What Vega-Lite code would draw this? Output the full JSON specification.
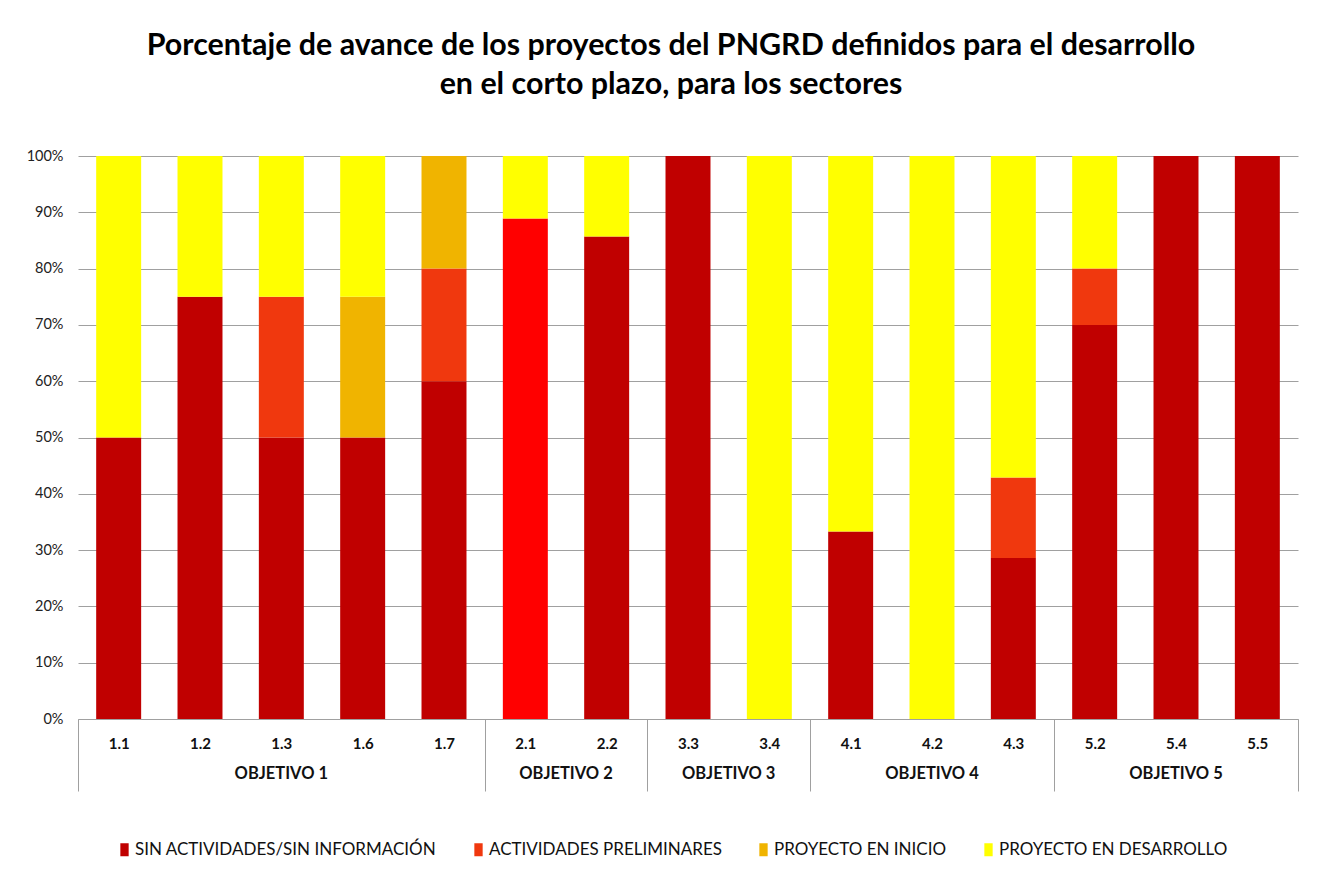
{
  "$schema": "https://vega.github.io/schema/vega-lite/v6.json",
  "width": 1220,
  "height": 563,
  "autosize": {"type": "none"},
  "padding": {"left": 78, "top": 156, "right": 22, "bottom": 152},
  "background": "white",
  "title": {
    "text": ["Porcentaje de avance de los proyectos del PNGRD definidos para el desarrollo", "en el corto plazo, para los sectores"],
    "font": "Lato", "fontSize": 30.4, "fontWeight": "bold", "color": "#000000",
    "lineHeight": 39, "anchor": "middle", "offset": 48, "dx": -17
  },
  "config": {"view": {"stroke": null}, "font": "Lato"},
  "datasets": {
    "bars": [
      {"sector": "1.1", "serie": "SIN ACTIVIDADES/SIN INFORMACIÓN", "pct": 50},
      {"sector": "1.1", "serie": "PROYECTO EN DESARROLLO", "pct": 50},
      {"sector": "1.2", "serie": "SIN ACTIVIDADES/SIN INFORMACIÓN", "pct": 75},
      {"sector": "1.2", "serie": "PROYECTO EN DESARROLLO", "pct": 25},
      {"sector": "1.3", "serie": "SIN ACTIVIDADES/SIN INFORMACIÓN", "pct": 50},
      {"sector": "1.3", "serie": "ACTIVIDADES PRELIMINARES", "pct": 25},
      {"sector": "1.3", "serie": "PROYECTO EN DESARROLLO", "pct": 25},
      {"sector": "1.6", "serie": "SIN ACTIVIDADES/SIN INFORMACIÓN", "pct": 50},
      {"sector": "1.6", "serie": "PROYECTO EN INICIO", "pct": 25},
      {"sector": "1.6", "serie": "PROYECTO EN DESARROLLO", "pct": 25},
      {"sector": "1.7", "serie": "SIN ACTIVIDADES/SIN INFORMACIÓN", "pct": 60},
      {"sector": "1.7", "serie": "ACTIVIDADES PRELIMINARES", "pct": 20},
      {"sector": "1.7", "serie": "PROYECTO EN INICIO", "pct": 20},
      {"sector": "2.1", "serie": "SIN ACTIVIDADES/SIN INFORMACIÓN", "pct": 88.9},
      {"sector": "2.1", "serie": "PROYECTO EN DESARROLLO", "pct": 11.1},
      {"sector": "2.2", "serie": "SIN ACTIVIDADES/SIN INFORMACIÓN", "pct": 85.7},
      {"sector": "2.2", "serie": "PROYECTO EN DESARROLLO", "pct": 14.3},
      {"sector": "3.3", "serie": "SIN ACTIVIDADES/SIN INFORMACIÓN", "pct": 100},
      {"sector": "3.4", "serie": "PROYECTO EN DESARROLLO", "pct": 100},
      {"sector": "4.1", "serie": "SIN ACTIVIDADES/SIN INFORMACIÓN", "pct": 33.3},
      {"sector": "4.1", "serie": "PROYECTO EN DESARROLLO", "pct": 66.7},
      {"sector": "4.2", "serie": "PROYECTO EN DESARROLLO", "pct": 100},
      {"sector": "4.3", "serie": "SIN ACTIVIDADES/SIN INFORMACIÓN", "pct": 28.6},
      {"sector": "4.3", "serie": "ACTIVIDADES PRELIMINARES", "pct": 14.3},
      {"sector": "4.3", "serie": "PROYECTO EN DESARROLLO", "pct": 57.1},
      {"sector": "5.2", "serie": "SIN ACTIVIDADES/SIN INFORMACIÓN", "pct": 70},
      {"sector": "5.2", "serie": "ACTIVIDADES PRELIMINARES", "pct": 10},
      {"sector": "5.2", "serie": "PROYECTO EN DESARROLLO", "pct": 20},
      {"sector": "5.4", "serie": "SIN ACTIVIDADES/SIN INFORMACIÓN", "pct": 100},
      {"sector": "5.5", "serie": "SIN ACTIVIDADES/SIN INFORMACIÓN", "pct": 100}
    ],
    "groups": [
      {"objetivo": "OBJETIVO 1", "centro": "1.3", "n": 5},
      {"objetivo": "OBJETIVO 2", "centro": "2.2", "n": 2},
      {"objetivo": "OBJETIVO 3", "centro": "3.4", "n": 2},
      {"objetivo": "OBJETIVO 4", "centro": "4.2", "n": 3},
      {"objetivo": "OBJETIVO 5", "centro": "5.4", "n": 3}
    ]
  },
  "layer": [
    {
      "data": {"name": "bars"},
      "transform": [
        {"calculate": "indexof(['SIN ACTIVIDADES/SIN INFORMACIÓN', 'ACTIVIDADES PRELIMINARES', 'PROYECTO EN INICIO', 'PROYECTO EN DESARROLLO'], datum.serie)", "as": "orden"}
      ],
      "mark": {"type": "bar", "width": {"band": 0.553}},
      "encoding": {
        "x": {
          "field": "sector", "type": "nominal",
          "scale": {
            "domain": ["1.1", "1.2", "1.3", "1.6", "1.7", "2.1", "2.2", "3.3", "3.4", "4.1", "4.2", "4.3", "5.2", "5.4", "5.5"],
            "paddingInner": 0, "paddingOuter": 0
          },
          "axis": {
            "title": null, "labelAngle": 0, "labelFont": "Lato", "labelFontWeight": "bold",
            "labelFontSize": 15, "labelColor": "#111111", "domainColor": "#A0A0A0", "domainWidth": 1,
            "tickBand": "extent", "tickSize": 72, "tickWidth": 1,
            "tickColor": {"condition": {"test": "datum.index < 0 || !isValid(datum.value) || indexof(['1.7','2.2','3.4','4.3','5.5'], datum.value) >= 0", "value": "#A0A0A0"}, "value": "transparent"},
            "labelPadding": -55, "grid": false
          }
        },
        "y": {
          "field": "pct", "type": "quantitative", "stack": "normalize",
          "axis": {
            "title": null, "values": [0, 0.1, 0.2, 0.3, 0.4, 0.5, 0.6, 0.7, 0.8, 0.9, 1],
            "format": ".0%", "domain": false, "ticks": false, "labelPadding": 15,
            "labelFont": "Lato", "labelFontSize": 14.5, "labelColor": "#222222",
            "gridColor": "#A0A0A0", "gridWidth": 1
          }
        },
        "order": {"field": "orden", "type": "quantitative", "sort": "ascending"},
        "color": {
          "condition": {"test": "datum.sector === '2.1' && datum.serie === 'SIN ACTIVIDADES/SIN INFORMACIÓN'", "value": "#FF0000"},
          "field": "serie", "type": "nominal",
          "sort": ["SIN ACTIVIDADES/SIN INFORMACIÓN", "ACTIVIDADES PRELIMINARES", "PROYECTO EN INICIO", "PROYECTO EN DESARROLLO"],
          "scale": {
            "domain": ["SIN ACTIVIDADES/SIN INFORMACIÓN", "ACTIVIDADES PRELIMINARES", "PROYECTO EN INICIO", "PROYECTO EN DESARROLLO"],
            "range": ["#C00000", "#F0380E", "#F0B400", "#FFFF00"]
          },
          "legend": {
            "orient": "none", "legendX": 38, "legendY": 685, "direction": "horizontal",
            "title": null, "symbolType": "M-0.64,-1H0.64V1H-0.64Z", "symbolSize": 169, "symbolStrokeWidth": 0,
            "labelFont": "Lato", "labelFontSize": 17, "labelColor": "#111111", "labelLimit": 0,
            "columnPadding": 33, "labelOffset": 2, "padding": 0
          }
        }
      }
    },
    {
      "data": {"name": "groups"},
      "transform": [{"filter": "datum.n % 2 === 1"}],
      "mark": {"type": "text", "dy": 55, "font": "Lato", "fontWeight": "bold", "fontSize": 16.5, "baseline": "middle", "align": "center", "color": "#111111"},
      "encoding": {
        "x": {"field": "centro", "type": "nominal", "title": null},
        "y": {"datum": 0},
        "text": {"field": "objetivo"}
      }
    },
    {
      "data": {"name": "groups"},
      "transform": [{"filter": "datum.n % 2 === 0"}],
      "mark": {"type": "text", "dy": 55, "font": "Lato", "fontWeight": "bold", "fontSize": 16.5, "baseline": "middle", "align": "center", "color": "#111111"},
      "encoding": {
        "x": {"field": "centro", "type": "nominal", "title": null, "bandPosition": 0},
        "y": {"datum": 0},
        "text": {"field": "objetivo"}
      }
    }
  ]
}
